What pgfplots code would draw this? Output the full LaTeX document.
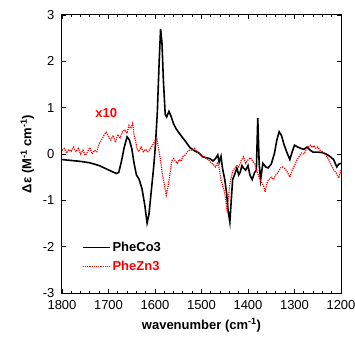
\documentclass[border=0pt]{standalone}
\usepackage{fontspec}
\setmainfont{Liberation Sans}
\usepackage{pgfplots}
\pgfplotsset{compat=1.18}
\begin{document}
\begin{tikzpicture}
\begin{axis}[
  name=ax,
  scale only axis,
  width=279pt, height=278pt,
  x dir=reverse,
  xmin=1200, xmax=1800,
  ymin=-3, ymax=3,
  xtick={1200,1300,1400,1500,1600,1700,1800},
  xticklabels={1200,1300,1400,1500,1600,1700,1800},
  minor x tick num=4,
  ytick={-3,-2,-1,0,1,2,3},
  yticklabels={-3,-2,-1,0,1,2,3},
  tick align=inside,
  tick pos=both,
  major tick length=4pt,
  minor tick length=2.5pt,
  axis line style={line width=1pt},
  every tick/.style={line width=0.8pt, black},
  tick label style={font=\fontsize{13}{15}\selectfont},
  xticklabel style={yshift=-4pt},
  yticklabel style={xshift=-4pt},
  xlabel={\textbf{wavenumber (cm\textsuperscript{-1})}},
  ylabel={\textbf{Δε (M\textsuperscript{-1} cm\textsuperscript{-1})}},
  label style={font=\fontsize{13}{15}\selectfont},
  xlabel style={yshift=-2pt},
  ylabel style={yshift=2pt},
  legend style={draw=none, fill=none, at={(0.06,0.13)}, anchor=west, font=\fontsize{13}{15}\selectfont\bfseries, row sep=4pt},
  legend cell align=left,
  legend image code/.code={\draw[#1] (0pt,0pt) -- (27pt,0pt);},
  clip=false,
]
\addplot[black, line width=1.6pt] coordinates {
(1800,-0.12) (1780,-0.14) (1760,-0.16) (1740,-0.19) (1720,-0.25) (1705,-0.32)
(1690,-0.39) (1683,-0.42) (1678,-0.40) (1672,-0.15) (1666,0.15) (1660,0.37)
(1655,0.30) (1650,0.12) (1645,-0.20) (1640,-0.45) (1634,-0.55) (1628,-0.75)
(1622,-1.10) (1617,-1.49) (1613,-1.30) (1608,-0.80) (1603,-0.30) (1599,0.20)
(1595,0.90) (1591,2.00) (1588,2.70) (1585,2.40) (1582,1.60) (1578,0.85)
(1575,0.80) (1570,0.92) (1565,0.80) (1560,0.65) (1555,0.55) (1548,0.45)
(1542,0.37) (1535,0.28) (1525,0.14) (1515,0.07) (1505,0.02) (1497,-0.06)
(1490,-0.08) (1482,-0.10) (1475,-0.15) (1470,-0.10) (1465,-0.02) (1462,-0.18)
(1458,-0.05) (1455,-0.30) (1450,-0.55) (1446,-0.85) (1443,-1.20) (1439,-1.47)
(1436,-1.00) (1433,-0.55) (1429,-0.45) (1424,-0.30) (1420,-0.45) (1417,-0.40)
(1413,-0.25) (1410,-0.30) (1405,-0.35) (1400,-0.25) (1396,-0.45) (1391,-0.55)
(1386,-0.40) (1382,-0.35) (1379,0.78) (1376,-0.20) (1373,-0.56) (1368,-0.20)
(1362,-0.28) (1357,-0.30) (1350,-0.22) (1343,0.02) (1338,0.30) (1333,0.48)
(1328,0.40) (1323,0.22) (1317,0.05) (1310,-0.12) (1305,0.05) (1300,0.19)
(1293,0.15) (1286,0.12) (1280,0.10) (1273,0.15) (1266,0.08) (1260,0.04)
(1250,0.04) (1240,0.03) (1232,0.00) (1224,-0.05) (1216,-0.12) (1209,-0.28)
(1205,-0.22) (1200,-0.20)
};
\addlegendentry{PheCo3}
\addplot[red, line width=1.2pt, densely dotted] coordinates {
(1800,0.08) (1795,0.12) (1790,0.02) (1785,0.10) (1780,0.06) (1775,0.15)
(1770,0.05) (1765,0.12) (1760,0.00) (1755,0.08) (1750,-0.03) (1745,0.05)
(1740,0.14) (1735,0.00) (1730,0.08) (1725,0.05) (1720,0.22) (1715,0.30)
(1710,0.40) (1705,0.47) (1700,0.38) (1695,0.30) (1690,0.40) (1685,0.25)
(1680,0.42) (1675,0.35) (1670,0.48) (1665,0.52) (1660,0.45) (1656,0.62)
(1652,0.55) (1648,0.66) (1645,0.40) (1642,0.30) (1639,0.12) (1635,0.05)
(1630,0.15) (1625,0.05) (1620,0.10) (1615,0.05) (1610,0.12) (1605,0.20)
(1600,0.28) (1596,0.32) (1592,0.10) (1588,-0.15) (1584,-0.45) (1580,-0.65)
(1576,-0.89) (1572,-0.70) (1568,-0.45) (1564,-0.15) (1560,-0.10) (1556,-0.15)
(1552,-0.20) (1548,-0.12) (1544,-0.15) (1540,-0.05) (1535,-0.02) (1530,0.05)
(1525,0.09) (1520,0.08) (1515,0.12) (1510,0.05) (1505,0.02) (1500,-0.06)
(1495,-0.05) (1490,-0.10) (1485,-0.12) (1480,-0.18) (1475,-0.22) (1470,-0.28)
(1466,-0.20) (1462,-0.30) (1458,-0.56) (1454,-0.70) (1450,-0.84) (1447,-1.06)
(1445,-1.21) (1442,-1.00) (1440,-0.70) (1436,-0.50) (1432,-0.35) (1428,-0.30)
(1424,-0.25) (1420,-0.28) (1415,-0.15) (1410,-0.06) (1405,-0.20) (1400,-0.13)
(1395,-0.08) (1390,-0.15) (1385,-0.22) (1380,-0.40) (1375,-0.52) (1370,-0.63)
(1366,-0.70) (1363,-0.82) (1360,-0.65) (1356,-0.56) (1350,-0.50) (1345,-0.55)
(1340,-0.45) (1335,-0.39) (1330,-0.30) (1326,-0.28) (1320,-0.32) (1315,-0.40)
(1310,-0.50) (1305,-0.35) (1300,-0.25) (1295,-0.13) (1290,-0.05) (1285,0.02)
(1280,0.00) (1275,0.09) (1270,0.15) (1266,0.19) (1262,0.14) (1258,0.18)
(1254,0.12) (1250,0.15) (1245,0.08) (1240,0.05) (1235,0.00) (1230,-0.06)
(1225,-0.15) (1220,-0.25) (1215,-0.35) (1210,-0.41) (1205,-0.52) (1200,-0.35)
};
\addlegendentry{\textcolor{red}{PheZn3}}
\node[red, font=\fontsize{13}{15}\selectfont\bfseries] at (axis cs:1705,0.89) {x10};
\end{axis}
\pgfresetboundingbox
\path[use as bounding box] ([shift={(-62pt,-49pt)}]ax.south west) rectangle ([shift={(14pt,15pt)}]ax.north east);
\end{tikzpicture}
\end{document}
